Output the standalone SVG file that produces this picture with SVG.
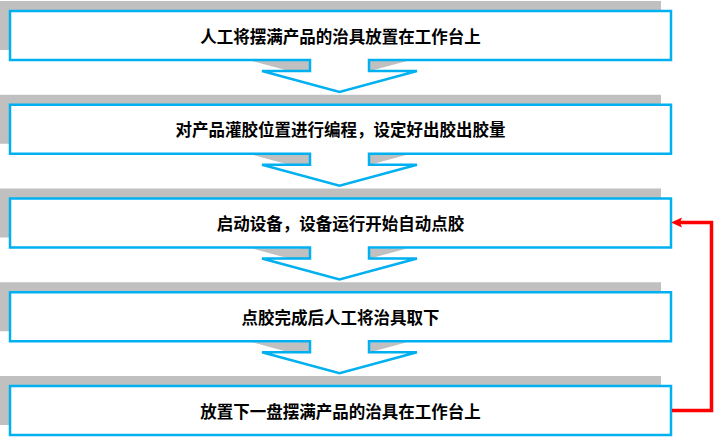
<svg xmlns="http://www.w3.org/2000/svg" xmlns:xlink="http://www.w3.org/1999/xlink" width="715" height="437" viewBox="0 0 715 437">
  <style>
    .shadow { fill: #C0C0C0; stroke: none; }
    .box { fill: #FFFFFF; stroke: #00B0F0; stroke-width: 2.5; stroke-linejoin: miter; }
    .label { font-family: "Noto Sans CJK SC", "Noto Sans", sans-serif; font-size: 16.5px; font-weight: bold; fill: #000000; text-anchor: middle; dominant-baseline: central; }
    .loop { fill: none; stroke: #FF0000; stroke-width: 3.5; stroke-linejoin: miter; }
  </style>
  <defs>
    <path id="callout" d="M10,0 H671 V49 H369 V60 H417 L339.5,81 L262,60 H310 V49 H10 Z"/>
    <path id="plain" d="M10,0 H671 V49 H10 Z"/>
    <marker id="redArrow" markerUnits="userSpaceOnUse" markerWidth="12" markerHeight="12" refX="3" refY="5" orient="auto">
      <path d="M0,0 L11,5 L0,10 L2,5 Z" fill="#FF0000"/>
    </marker>
  </defs>

  <g id="node1">
    <use xlink:href="#callout" href="#callout" x="-10" y="1" class="shadow"/>
    <use xlink:href="#callout" href="#callout" x="0" y="11" class="box"/>
    <text class="label" x="340.5" y="35.5">人工将摆满产品的治具放置在工作台上</text>
  </g>

  <g id="node2">
    <use xlink:href="#callout" href="#callout" x="-10" y="94.75" class="shadow"/>
    <use xlink:href="#callout" href="#callout" x="0" y="104.75" class="box"/>
    <text class="label" x="340.5" y="129.25">对产品灌胶位置进行编程，设定好出胶出胶量</text>
  </g>

  <g id="node3">
    <use xlink:href="#callout" href="#callout" x="-10" y="188.5" class="shadow"/>
    <use xlink:href="#callout" href="#callout" x="0" y="198.5" class="box"/>
    <text class="label" x="340.5" y="223">启动设备，设备运行开始自动点胶</text>
  </g>

  <g id="node4">
    <use xlink:href="#callout" href="#callout" x="-10" y="282.25" class="shadow"/>
    <use xlink:href="#callout" href="#callout" x="0" y="292.25" class="box"/>
    <text class="label" x="340.5" y="316.75">点胶完成后人工将治具取下</text>
  </g>

  <g id="node5">
    <use xlink:href="#plain" href="#plain" x="-10" y="376" class="shadow"/>
    <use xlink:href="#plain" href="#plain" x="0" y="386" class="box"/>
    <text class="label" x="340.5" y="410.5">放置下一盘摆满产品的治具在工作台上</text>
  </g>

  <g id="connectors">
    <path class="loop" d="M672,410.5 H711.5 V222.5 H679" marker-end="url(#redArrow)"/>
  </g>
</svg>
